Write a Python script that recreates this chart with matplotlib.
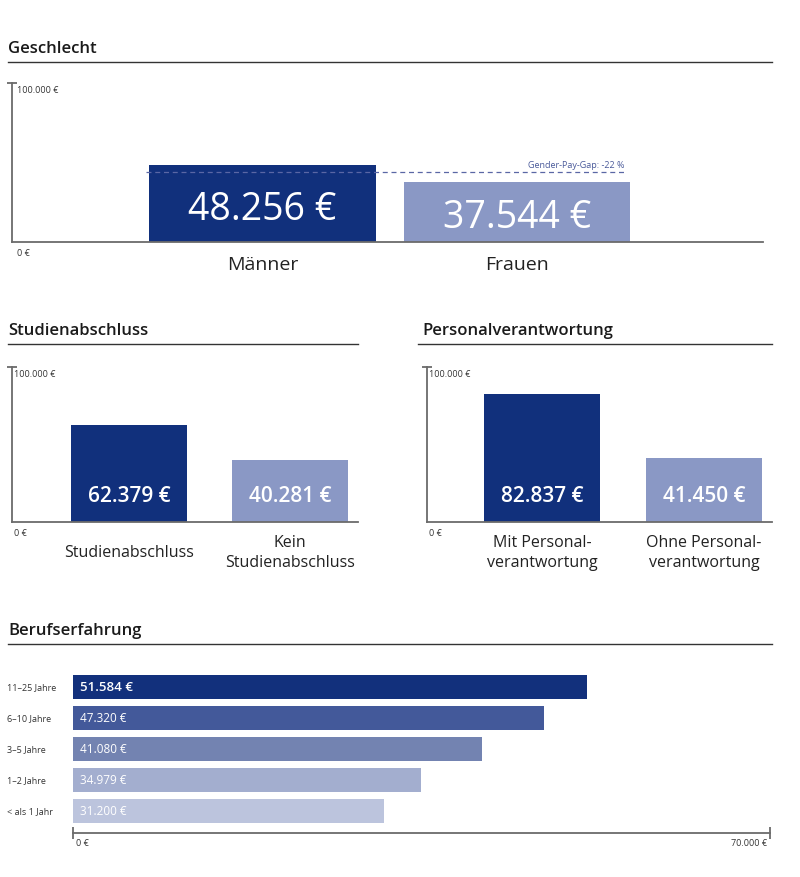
import matplotlib
matplotlib.use("Agg")
import matplotlib.pyplot as plt
from matplotlib.lines import Line2D

plt.rcParams['font.family'] = ['Open Sans', 'DejaVu Sans']

# ---------------- data ----------------
gender_cats = ["Männer", "Frauen"]
gender_vals = [48256, 37544]
gap_line_value = 44000

study_cats = ["Studienabschluss", "Kein\nStudienabschluss"]
study_vals = [62379, 40281]

lead_cats = ["Mit Personal-\nverantwortung", "Ohne Personal-\nverantwortung"]
lead_vals = [82837, 41450]

exp_cats = ["11–25 Jahre", "6–10 Jahre", "3–5 Jahre", "1–2 Jahre", "< als 1 Jahr"]
exp_vals = [51584, 47320, 41080, 34979, 31200]

y_max = 100000
x_max_exp = 70000

# ---------------- styles ----------------
DARK = "#11307c"
LIGHT = "#8a98c5"
EXP_COLORS = ["#12307c", "#43599a", "#7383b1", "#a3aecf", "#bcc4dd"]
AX_COL = "#6b6b6b"
TXT = "#222222"

W, H = 800, 878
fig = plt.figure(figsize=(W / 100, H / 100), dpi=100)


def rect(x0, y0, x1, y1):
    return [x0 / W, 1 - y1 / H, (x1 - x0) / W, (y1 - y0) / H]


def fx(x):
    return x / W


def fy(y):
    return 1 - y / H


def header(x, y_base, x_line0, x_line1, y_line, text):
    fig.text(fx(x), fy(y_base), text, fontsize=12, color="#1a1a1a",
             va="baseline", ha="left", fontweight="semibold")
    fig.add_artist(Line2D([fx(x_line0), fx(x_line1)], [fy(y_line), fy(y_line)],
                          color="#333333", lw=1.0, transform=fig.transFigure))


def fmt(v):
    return f"{v:,}".replace(",", ".") + " €"


def vertical_panel(ax, cats, vals, xlim, width, val_ys, val_fs, val_bold, cat_y, cat_fs):
    colors = [DARK, LIGHT]
    ax.bar(range(len(vals)), vals, width=width, color=colors, zorder=2)
    ax.set_xlim(*xlim)
    ax.set_ylim(0, y_max)
    for s in ["top", "right"]:
        ax.spines[s].set_visible(False)
    ax.spines["left"].set_color(AX_COL)
    ax.spines["bottom"].set_color(AX_COL)
    ax.spines["left"].set_linewidth(1.3)
    ax.spines["bottom"].set_linewidth(1.3)
    ax.set_xticks([])
    ax.set_yticks([y_max])
    ax.set_yticklabels([])
    ax.tick_params(axis="y", direction="inout", length=7, width=1.3, color=AX_COL)
    ax.text(0.006, y_max * 0.96, fmt(y_max), transform=ax.get_yaxis_transform(),
            fontsize=6.5, color="#333333", va="center", ha="left")
    ax.text(0.006, -y_max * 0.065, "0 €", transform=ax.get_yaxis_transform(),
            fontsize=6.5, color="#333333", va="center", ha="left")
    for i, (c, v) in enumerate(zip(cats, vals)):
        ax.text(i, val_ys[i], fmt(v), ha="center", va="center", color="white",
                fontsize=val_fs, fontweight="semibold" if val_bold else "normal", zorder=3)
        ax.text(i, cat_y, c, ha="center", va="center", color=TXT, fontsize=cat_fs,
                linespacing=1.3, clip_on=False)


# ---------------- Geschlecht ----------------
header(8, 53, 8, 772, 63, "Geschlecht")
ax1 = fig.add_axes(rect(12, 84, 763, 243))
vertical_panel(ax1, gender_cats, gender_vals, (-0.984, 1.967), 0.89,
               [20800, 16000], 27, False, -13800, 14)
gap = round((gender_vals[1] - gender_vals[0]) / gender_vals[0] * 100)
ax1.plot([-0.458, 1.424], [gap_line_value, gap_line_value], ls=(0, (4, 3)),
         color="#5a67a5", lw=0.9, zorder=4)
ax1.text(1.424, gap_line_value + 2200, f"Gender-Pay-Gap: {gap} %", ha="right",
         va="bottom", fontsize=6.5, color="#4a5a9a")

# ---------------- Studienabschluss ----------------
header(8, 335, 8, 358, 345, "Studienabschluss")
ax2 = fig.add_axes(rect(12, 368, 358, 523))
vertical_panel(ax2, study_cats, study_vals, (-0.727, 1.422), 0.72,
               [17400, 17400], 15, True, -19500, 11.5)

# ---------------- Personalverantwortung ----------------
header(422, 335, 418, 772, 345, "Personalverantwortung")
ax3 = fig.add_axes(rect(427, 368, 772, 523))
vertical_panel(ax3, lead_cats, lead_vals, (-0.71, 1.42), 0.716,
               [17400, 17400], 15, True, -19500, 11.5)

# ---------------- Berufserfahrung ----------------
header(8, 635, 8, 772, 645, "Berufserfahrung")
ax4 = fig.add_axes(rect(73, 660, 770, 834))
ypos = list(range(len(exp_vals)))
ax4.barh(ypos, exp_vals, height=0.77, color=EXP_COLORS, zorder=2)
ax4.set_xlim(0, x_max_exp)
ax4.set_ylim(4.71, -0.903)
for s in ["top", "right", "left"]:
    ax4.spines[s].set_visible(False)
ax4.spines["bottom"].set_color(AX_COL)
ax4.spines["bottom"].set_linewidth(1.3)
ax4.set_yticks([])
ax4.set_xticks([0, x_max_exp])
ax4.set_xticklabels([])
ax4.tick_params(axis="x", direction="inout", length=9, width=1.3, color=AX_COL)
ax4.text(300, 4.71 + 0.3, "0 €", fontsize=6.5, color="#333333", va="center", ha="left",
         clip_on=False)
ax4.text(x_max_exp - 300, 4.71 + 0.3, fmt(x_max_exp), fontsize=6.5, color="#333333",
         va="center", ha="right", clip_on=False)
for i, (c, v) in enumerate(zip(exp_cats, exp_vals)):
    ax4.text(-0.0947, i, c, transform=ax4.get_yaxis_transform(), fontsize=6.5,
             color="#333333", va="center", ha="left")
    ax4.text(700, i, fmt(v), va="center", ha="left", color="white",
             fontsize=9.5 if i == 0 else 8.5,
             fontweight="semibold" if i == 0 else "normal", zorder=3)

fig.savefig("out.png", dpi=100)
